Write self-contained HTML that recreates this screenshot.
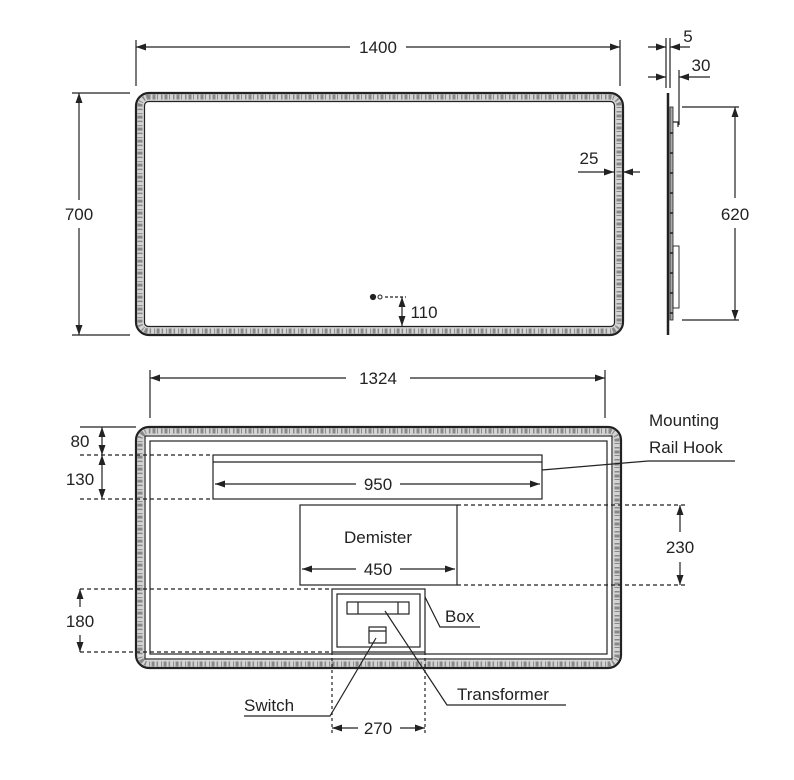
<!DOCTYPE html>
<html><head><meta charset="utf-8"><style>
html,body{margin:0;padding:0;background:#fff}
svg{display:block}
text{font-family:"Liberation Sans",sans-serif;font-size:17px;fill:#222}
</style></head><body>
<svg width="794" height="780" viewBox="0 0 794 780" xmlns="http://www.w3.org/2000/svg">
<defs>
<marker id="a" viewBox="0 0 10 10" refX="10" refY="5" markerWidth="10" markerHeight="10" markerUnits="userSpaceOnUse" orient="auto-start-reverse"><path d="M0,1.5 L10,5 L0,8.5z" fill="#222"/></marker>
</defs>
<g stroke="#222" fill="none" stroke-width="1.2">
<!-- TOP MIRROR -->
<rect x="140" y="97" width="479" height="234" rx="9" stroke="#d4d4d4" stroke-width="8"/>
<rect x="140" y="97" width="479" height="234" rx="9" stroke="#888" stroke-width="5" stroke-dasharray="1.5 2 3 1.5 1 3"/>
<rect x="136" y="93" width="487" height="242" rx="13" stroke-width="2.2"/>
<rect x="144.5" y="101.5" width="470" height="225" rx="4" stroke-width="1.2"/>
<!-- 1400 -->
<line x1="136" y1="40" x2="136" y2="86"/><line x1="620" y1="40" x2="620" y2="86"/>
<line x1="136" y1="47" x2="350" y2="47" marker-start="url(#a)"/><line x1="406" y1="47" x2="620" y2="47" marker-end="url(#a)"/>
<!-- 700 -->
<line x1="72" y1="93" x2="130" y2="93"/><line x1="72" y1="335" x2="130" y2="335"/>
<line x1="79" y1="93" x2="79" y2="200" marker-start="url(#a)"/><line x1="79" y1="228" x2="79" y2="335" marker-end="url(#a)"/>
<!-- 25 -->
<line x1="578" y1="172" x2="614" y2="172" marker-end="url(#a)"/><line x1="640" y1="172" x2="623" y2="172" marker-end="url(#a)"/>
<!-- 110 -->
<circle cx="373" cy="297" r="2.5" fill="#222"/><circle cx="380" cy="297" r="2" stroke-width="1"/>
<line x1="385" y1="297" x2="406" y2="297" stroke-dasharray="3 2"/>
<line x1="402" y1="297" x2="402" y2="326" marker-start="url(#a)" marker-end="url(#a)"/>
<!-- SIDE VIEW -->
<line x1="668" y1="93" x2="668" y2="335" stroke-width="2.5"/>
<rect x="670" y="107" width="3" height="213" fill="#aaa" stroke-width="0.8"/>
<path d="M673,122 h5 v5"/>
<rect x="673" y="246" width="6" height="62" stroke-width="0.9"/>
<g stroke-width="1.6">
<line x1="670" y1="153" x2="673" y2="153"/><line x1="670" y1="173" x2="673" y2="173"/><line x1="670" y1="193" x2="673" y2="193"/><line x1="670" y1="213" x2="673" y2="213"/><line x1="670" y1="233" x2="673" y2="233"/><line x1="670" y1="253" x2="673" y2="253"/><line x1="670" y1="273" x2="673" y2="273"/><line x1="670" y1="293" x2="673" y2="293"/><line x1="670" y1="313" x2="673" y2="313"/><line x1="670" y1="133" x2="673" y2="133"/>
</g>
<line x1="666" y1="38" x2="666" y2="88"/><line x1="670" y1="38" x2="670" y2="88"/><line x1="679" y1="70" x2="679" y2="125"/>
<line x1="648" y1="47" x2="666" y2="47" marker-end="url(#a)"/><line x1="690" y1="47" x2="670" y2="47" marker-end="url(#a)"/>
<line x1="648" y1="77" x2="666" y2="77" marker-end="url(#a)"/><line x1="710" y1="77" x2="679" y2="77" marker-end="url(#a)"/>
<line x1="682" y1="107" x2="739" y2="107"/><line x1="682" y1="320" x2="739" y2="320"/>
<line x1="735" y1="107" x2="735" y2="198" marker-start="url(#a)"/><line x1="735" y1="228" x2="735" y2="320" marker-end="url(#a)"/>
<!-- BOTTOM MIRROR -->
<rect x="140" y="431" width="477" height="233" rx="9" stroke="#d4d4d4" stroke-width="8"/>
<rect x="140" y="431" width="477" height="233" rx="9" stroke="#888" stroke-width="5" stroke-dasharray="1.5 2 3 1.5 1 3"/>
<rect x="136" y="427" width="485" height="241" rx="13" stroke-width="2.2"/>
<rect x="145" y="436" width="467" height="223" stroke-width="1.2"/>
<rect x="150" y="441" width="457" height="213" stroke-width="1.2"/>
<!-- 1324 -->
<line x1="150" y1="370" x2="150" y2="418"/><line x1="605" y1="370" x2="605" y2="418"/>
<line x1="150" y1="378" x2="346" y2="378" marker-start="url(#a)"/><line x1="410" y1="378" x2="605" y2="378" marker-end="url(#a)"/>
<!-- 80 / 130 -->
<line x1="80" y1="427" x2="136" y2="427"/>
<line x1="80" y1="455" x2="213" y2="455" stroke-dasharray="4 3"/><line x1="80" y1="499" x2="213" y2="499" stroke-dasharray="4 3"/>
<line x1="102" y1="427" x2="102" y2="455" marker-start="url(#a)" marker-end="url(#a)"/>
<line x1="102" y1="455" x2="102" y2="499" marker-start="url(#a)" marker-end="url(#a)"/>
<!-- rail -->
<rect x="213" y="455" width="329" height="44"/><line x1="213" y1="462" x2="542" y2="462"/>
<line x1="215" y1="484" x2="356" y2="484" marker-start="url(#a)"/><line x1="400" y1="484" x2="540" y2="484" marker-end="url(#a)"/>
<line x1="542" y1="470" x2="648" y2="461"/><line x1="648" y1="461" x2="735" y2="461"/>
<!-- demister -->
<rect x="300" y="505" width="157" height="80"/>
<line x1="302" y1="569" x2="356" y2="569" marker-start="url(#a)"/><line x1="400" y1="569" x2="455" y2="569" marker-end="url(#a)"/>
<line x1="457" y1="505" x2="688" y2="505" stroke-dasharray="4 3"/><line x1="457" y1="585" x2="688" y2="585" stroke-dasharray="4 3"/>
<line x1="680" y1="505" x2="680" y2="532" marker-start="url(#a)"/><line x1="680" y1="562" x2="680" y2="585" marker-end="url(#a)"/>
<!-- 180 -->
<line x1="80" y1="589" x2="332" y2="589" stroke-dasharray="4 3"/><line x1="80" y1="652" x2="332" y2="652" stroke-dasharray="4 3"/>
<line x1="80" y1="589" x2="80" y2="607" marker-start="url(#a)"/><line x1="80" y1="635" x2="80" y2="652" marker-end="url(#a)"/>
<!-- box -->
<rect x="332" y="589" width="93" height="63"/><rect x="337" y="594" width="83" height="53"/>
<rect x="347" y="602" width="62" height="12"/><line x1="358" y1="602" x2="358" y2="614"/><line x1="398" y1="602" x2="398" y2="614"/>
<rect x="369" y="627" width="17" height="16"/><line x1="369" y1="631" x2="386" y2="631"/>
<path d="M425,597 L440,627 L480,627"/>
<path d="M376,638 L330,716 L244,716"/>
<path d="M385,611 L447,705 L566,705"/>
<line x1="332" y1="652" x2="332" y2="735" stroke-dasharray="3 3"/><line x1="425" y1="652" x2="425" y2="735" stroke-dasharray="3 3"/>
<line x1="332" y1="728" x2="358" y2="728" marker-start="url(#a)"/><line x1="400" y1="728" x2="425" y2="728" marker-end="url(#a)"/>
</g>
<g text-anchor="middle">
<text x="378" y="53">1400</text>
<text x="79" y="220">700</text>
<text x="589" y="164">25</text>
<text x="424" y="318">110</text>
<text x="688" y="42">5</text>
<text x="701" y="71">30</text>
<text x="735" y="220">620</text>
<text x="378" y="384">1324</text>
<text x="80" y="447">80</text>
<text x="80" y="485">130</text>
<text x="378" y="490">950</text>
<text x="378" y="543">Demister</text>
<text x="378" y="575">450</text>
<text x="680" y="553">230</text>
<text x="80" y="627">180</text>
<text x="378" y="734">270</text>
</g>
<text x="649" y="426">Mounting</text>
<text x="649" y="453">Rail Hook</text>
<text x="445" y="622">Box</text>
<text x="457" y="700">Transformer</text>
<text x="244" y="711">Switch</text>
</svg>
</body></html>
